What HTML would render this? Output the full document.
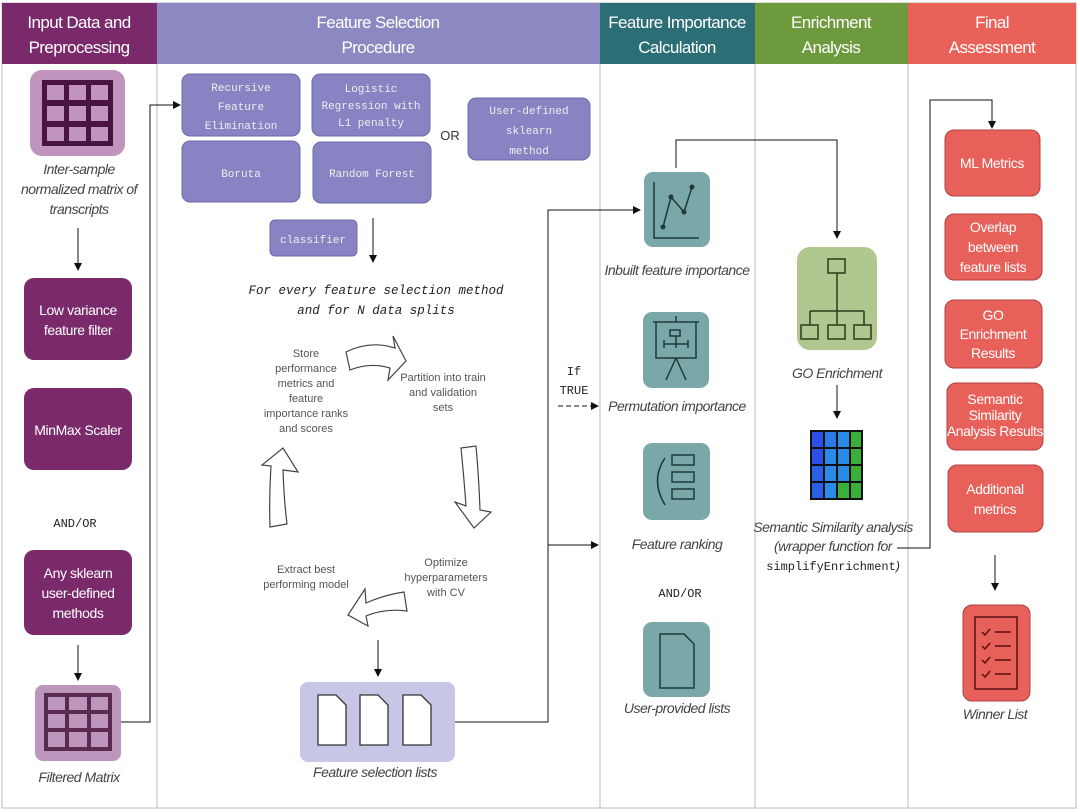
<!DOCTYPE html>
<html><head><meta charset="utf-8"><style>
body{margin:0;background:#fff}
svg{display:block;font-family:"Liberation Sans",sans-serif}
.it{font-style:italic;fill:#444;font-size:14px;text-anchor:middle;letter-spacing:-0.5px}
.mono{font-family:"Liberation Mono",monospace;fill:#eee;font-size:11px;text-anchor:middle}
.wt{fill:#fff;font-size:14px;text-anchor:middle;letter-spacing:-0.4px}
.cy{fill:#555;font-size:11px;text-anchor:middle}
.hd{fill:#fff;font-size:17px;text-anchor:middle;letter-spacing:-0.6px}
</style></head><body>
<svg width="1080" height="812" viewBox="0 0 1080 812">
<defs><marker id="a" markerWidth="8" markerHeight="8" refX="7" refY="4" orient="auto" markerUnits="userSpaceOnUse"><path d="M0,0L8,4L0,8z" fill="#111"/></marker></defs>
<rect x="2" y="3" width="1074" height="805" fill="#fff" stroke="#bbb"/>
<rect x="2" y="3" width="155" height="61" fill="#7a2a6a"/>
<rect x="157" y="3" width="443" height="61" fill="#8c88c2"/>
<rect x="600" y="3" width="155" height="61" fill="#2b6e76"/>
<rect x="755" y="3" width="153" height="61" fill="#6c9a3c"/>
<rect x="908" y="3" width="168" height="61" fill="#e8625a"/>
<text class="hd" x="79" y="28">Input Data and</text><text class="hd" x="79" y="53">Preprocessing</text>
<text class="hd" x="378" y="28">Feature Selection</text><text class="hd" x="378" y="53">Procedure</text>
<text class="hd" x="677" y="28">Feature Importance</text><text class="hd" x="677" y="53">Calculation</text>
<text class="hd" x="831" y="28">Enrichment</text><text class="hd" x="831" y="53">Analysis</text>
<text class="hd" x="992" y="28">Final</text><text class="hd" x="992" y="53">Assessment</text>
<g stroke="#bbb"><line x1="157" y1="64" x2="157" y2="808"/><line x1="600" y1="64" x2="600" y2="808"/><line x1="755" y1="64" x2="755" y2="808"/><line x1="908" y1="64" x2="908" y2="808"/></g>
<rect x="30" y="70" width="95" height="86" rx="12" fill="#c094bc"/>
<rect x="42" y="80" width="71" height="66" fill="#4a1442"/>
<g fill="#c094bc"><rect x="47" y="85" width="17" height="15"/><rect x="69" y="85" width="17" height="15"/><rect x="91" y="85" width="17" height="15"/><rect x="47" y="106" width="17" height="15"/><rect x="69" y="106" width="17" height="15"/><rect x="91" y="106" width="17" height="15"/><rect x="47" y="127" width="17" height="14"/><rect x="69" y="127" width="17" height="14"/><rect x="91" y="127" width="17" height="14"/></g>
<text class="it" x="79" y="174">Inter-sample</text><text class="it" x="79" y="194">normalized matrix of</text><text class="it" x="79" y="214">transcripts</text>
<line x1="78" y1="228" x2="78" y2="270" stroke="#111" marker-end="url(#a)"/>
<rect x="24" y="278" width="108" height="82" rx="10" fill="#7a2a6a"/>
<text class="wt" x="78" y="315">Low variance</text><text class="wt" x="78" y="335">feature filter</text>
<rect x="24" y="388" width="108" height="82" rx="10" fill="#7a2a6a"/>
<text class="wt" x="78" y="435">MinMax Scaler</text>
<text x="75" y="527" font-family="Liberation Mono,monospace" font-size="12" text-anchor="middle" fill="#222">AND/OR</text>
<rect x="24" y="550" width="108" height="85" rx="10" fill="#7a2a6a"/>
<text class="wt" x="78" y="578">Any sklearn</text><text class="wt" x="78" y="598">user-defined</text><text class="wt" x="78" y="618">methods</text>
<line x1="78" y1="645" x2="78" y2="680" stroke="#111" marker-end="url(#a)"/>
<rect x="35" y="685" width="86" height="76" rx="8" fill="#bc96bc"/>
<rect x="44" y="693" width="68" height="58" fill="#5a2a52"/>
<g fill="#bc96bc"><rect x="48" y="697" width="17" height="13"/><rect x="69" y="697" width="18" height="13"/><rect x="91" y="697" width="17" height="13"/><rect x="48" y="714" width="17" height="14"/><rect x="69" y="714" width="18" height="14"/><rect x="91" y="714" width="17" height="14"/><rect x="48" y="732" width="17" height="15"/><rect x="69" y="732" width="18" height="15"/><rect x="91" y="732" width="17" height="15"/></g>
<text class="it" x="79" y="782">Filtered Matrix</text>
<polyline points="121,722 150,722 150,105 180,105" fill="none" stroke="#111" marker-end="url(#a)"/>
<g fill="#8884c4" stroke="#6e6aaa">
<rect x="182" y="74" width="118" height="62" rx="8"/><rect x="312" y="74" width="118" height="62" rx="8"/>
<rect x="182" y="141" width="118" height="61" rx="8"/><rect x="313" y="142" width="118" height="61" rx="8"/>
<rect x="468" y="98" width="122" height="62" rx="8"/><rect x="270" y="220" width="87" height="36" rx="5"/></g>
<text class="mono" x="241" y="91">Recursive</text><text class="mono" x="241" y="110">Feature</text><text class="mono" x="241" y="129">Elimination</text>
<text class="mono" x="371" y="92">Logistic</text><text class="mono" x="371" y="109">Regression with</text><text class="mono" x="371" y="126">L1 penalty</text>
<text class="mono" x="241" y="177" font-size="14">Boruta</text><text class="mono" x="372" y="177" font-size="12">Random Forest</text>
<text class="mono" x="529" y="114" font-size="12">User-defined</text><text class="mono" x="529" y="134" font-size="12">sklearn</text><text class="mono" x="529" y="154" font-size="12">method</text>
<text class="mono" x="313" y="243">classifier</text>
<text x="450" y="140" font-size="13" fill="#333" text-anchor="middle">OR</text>
<line x1="373" y1="218" x2="373" y2="262" stroke="#111" marker-end="url(#a)"/>
<text x="376" y="294" font-family="Liberation Mono,monospace" font-style="italic" font-size="12.5" text-anchor="middle" fill="#222">For every feature selection method</text>
<text x="376" y="314" font-family="Liberation Mono,monospace" font-style="italic" font-size="12.5" text-anchor="middle" fill="#222">and for N data splits</text>
<text class="cy" x="306" y="357">Store</text><text class="cy" x="306" y="372">performance</text><text class="cy" x="306" y="387">metrics and</text><text class="cy" x="306" y="402">feature</text><text class="cy" x="306" y="417">importance ranks</text><text class="cy" x="306" y="432">and scores</text>
<text class="cy" x="443" y="381">Partition into train</text><text class="cy" x="443" y="396">and validation</text><text class="cy" x="443" y="411">sets</text>
<text class="cy" x="446" y="566">Optimize</text><text class="cy" x="446" y="581">hyperparameters</text><text class="cy" x="446" y="596">with CV</text>
<text class="cy" x="306" y="573">Extract best</text><text class="cy" x="306" y="588">performing model</text>
<g fill="#fff" stroke="#444" stroke-width="1.2">
<path d="M346,352 Q370,340 395,348 L393,336 L406,361 L388,380 L390,368 Q370,362 350,370 Z"/>
<path d="M461,448 L476,446 Q479,480 480,510 L491,512 L474,528 L455,502 L466,506 Q464,478 461,448Z"/>
<path d="M404,592 L407,611 Q385,608 366,616 L368,626 L348,615 L365,589 L366,603 Q384,595 404,592Z"/>
<path d="M270,527 L287,524 Q284,500 283,470 L298,472 L283,448 L262,465 L271,466 Q269,500 270,527Z"/>
</g>
<line x1="378" y1="640" x2="378" y2="676" stroke="#111" marker-end="url(#a)"/>
<rect x="300" y="682" width="155" height="80" rx="8" fill="#c8c6e6"/>
<g fill="#fff" stroke="#333" stroke-width="1.3"><path d="M318,695h18l10,10v40h-28z"/><path d="M360,695h18l10,10v40h-28z"/><path d="M403,695h18l10,10v40h-28z"/></g>
<text class="it" x="375" y="777">Feature selection lists</text>
<polyline points="455,722 548,722 548,210 640,210" fill="none" stroke="#111" marker-end="url(#a)"/>
<line x1="548" y1="545" x2="598" y2="545" stroke="#111" marker-end="url(#a)"/>
<line x1="558" y1="406" x2="598" y2="406" stroke="#111" stroke-dasharray="5,3" marker-end="url(#a)"/>
<text x="574" y="375" font-family="Liberation Mono,monospace" font-size="12" text-anchor="middle" fill="#222">If</text>
<text x="574" y="394" font-family="Liberation Mono,monospace" font-size="12" text-anchor="middle" fill="#222">TRUE</text>
<g fill="#7aa8a8"><rect x="644" y="172" width="66" height="75" rx="9"/><rect x="643" y="312" width="66" height="76" rx="9"/><rect x="643" y="443" width="67" height="77" rx="9"/><rect x="643" y="622" width="67" height="75" rx="9"/></g>
<g stroke="#1e3a3a" stroke-width="1.5" fill="none">
<path d="M654,182V238H699"/><polyline points="663,227 671,197 684,212 692,187"/>
<path d="M653,322h46M656,322v36h40v-36M676,358l-10,22M676,358l10,22M676,316v6M670,330h10v6h-10zM664,344h24M664,340v8M676,336v12M688,340v8"/>
<rect x="672" y="455" width="22" height="10"/><rect x="672" y="472" width="22" height="10"/><rect x="672" y="489" width="22" height="10"/><path d="M665,458 Q650,480 665,505"/>
<path d="M660,634h24l10,10v44h-34z"/></g>
<g fill="#1e3a3a"><circle cx="663" cy="227" r="2.5"/><circle cx="671" cy="197" r="2.5"/><circle cx="684" cy="212" r="2.5"/><circle cx="692" cy="187" r="2.5"/></g>
<text class="it" x="677" y="275">Inbuilt feature importance</text>
<text class="it" x="677" y="411">Permutation importance</text>
<text class="it" x="677" y="549">Feature ranking</text>
<text x="680" y="597" font-family="Liberation Mono,monospace" font-size="12" text-anchor="middle" fill="#222">AND/OR</text>
<text class="it" x="677" y="713">User-provided lists</text>
<polyline points="676,168 676,140 837,140 837,238" fill="none" stroke="#111" marker-end="url(#a)"/>
<rect x="797" y="247" width="80" height="103" rx="13" fill="#b0c890"/>
<g stroke="#2a3a1a" stroke-width="1.5" fill="none"><rect x="828" y="259" width="17" height="14"/><path d="M837,273v38M810,311v14M837,311v14M864,311v14M810,311h54"/><rect x="801" y="325" width="17" height="14"/><rect x="828" y="325" width="17" height="14"/><rect x="854" y="325" width="17" height="14"/></g>
<text class="it" x="837" y="378">GO Enrichment</text>
<line x1="837" y1="385" x2="837" y2="418" stroke="#111" marker-end="url(#a)"/>
<rect x="810" y="430" width="53" height="70" fill="#111"/>
<g>
<rect x="812" y="432" width="11" height="15" fill="#2a50e8"/><rect x="825" y="432" width="11" height="15" fill="#2a7ae8"/><rect x="838" y="432" width="11" height="15" fill="#2a8ae8"/><rect x="851" y="432" width="10" height="15" fill="#3ab03a"/>
<rect x="812" y="449" width="11" height="15" fill="#2a50e8"/><rect x="825" y="449" width="11" height="15" fill="#2a8ae8"/><rect x="838" y="449" width="11" height="15" fill="#2a8ae8"/><rect x="851" y="449" width="10" height="15" fill="#3ab03a"/>
<rect x="812" y="466" width="11" height="15" fill="#2a60e8"/><rect x="825" y="466" width="11" height="15" fill="#2a8ae8"/><rect x="838" y="466" width="11" height="15" fill="#2a8ae8"/><rect x="851" y="466" width="10" height="15" fill="#3ab03a"/>
<rect x="812" y="483" width="11" height="15" fill="#2a60e8"/><rect x="825" y="483" width="11" height="15" fill="#2a8ae8"/><rect x="838" y="483" width="11" height="15" fill="#3ab03a"/><rect x="851" y="483" width="10" height="15" fill="#3ab03a"/></g>
<text class="it" x="833" y="532" font-size="13">Semantic Similarity analysis</text>
<text class="it" x="833" y="551" font-size="13">(wrapper function for</text>
<text x="833" y="570" font-family="Liberation Mono,monospace" font-size="12" text-anchor="middle" fill="#222">simplifyEnrichment<tspan font-family="Liberation Sans" font-style="italic">)</tspan></text>
<polyline points="897,548 930,548 930,100 992,100 992,128" fill="none" stroke="#111" marker-end="url(#a)"/>
<g fill="#e8605a" stroke="#b04040"><rect x="945" y="130" width="95" height="66" rx="9"/><rect x="945" y="214" width="97" height="66" rx="9"/><rect x="945" y="300" width="97" height="68" rx="9"/><rect x="947" y="383" width="96" height="67" rx="9"/><rect x="948" y="465" width="95" height="67" rx="9"/><rect x="963" y="605" width="67" height="96" rx="9"/></g>
<text class="wt" x="992" y="168">ML Metrics</text>
<text class="wt" x="993" y="232">Overlap</text><text class="wt" x="993" y="252">between</text><text class="wt" x="993" y="272">feature lists</text>
<text class="wt" x="993" y="320" font-size="13">GO</text><text class="wt" x="993" y="339" font-size="13">Enrichment</text><text class="wt" x="993" y="358" font-size="13">Results</text>
<text class="wt" x="995" y="404" font-size="10">Semantic</text><text class="wt" x="995" y="420" font-size="10">Similarity</text><text class="wt" x="995" y="436" font-size="10">Analysis Results</text>
<text class="wt" x="995" y="494">Additional</text><text class="wt" x="995" y="514">metrics</text>
<line x1="995" y1="555" x2="995" y2="590" stroke="#111" marker-end="url(#a)"/>
<g stroke="#5a1010" stroke-width="1.5" fill="none"><rect x="975" y="617" width="42" height="72"/><path d="M982,632l3,3 5,-6M995,632h16M982,646l3,3 5,-6M995,646h16M982,660l3,3 5,-6M995,660h16M982,674l3,3 5,-6M995,674h16"/></g>
<text class="it" x="995" y="719">Winner List</text>
</svg>
</body></html>
